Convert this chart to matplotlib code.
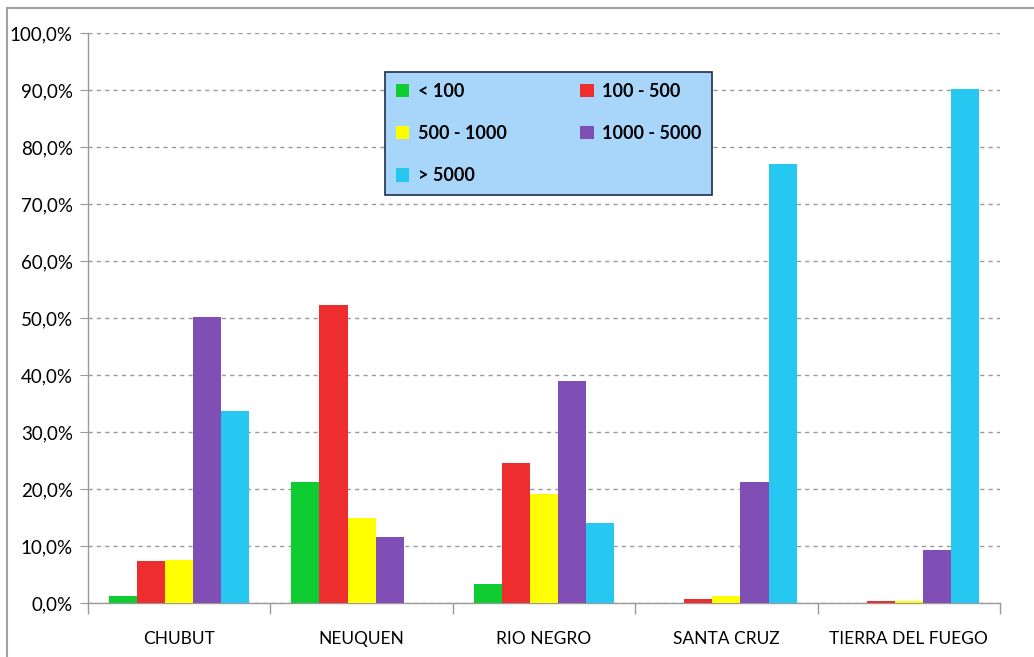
import matplotlib
matplotlib.use("Agg")
import matplotlib.pyplot as plt
from matplotlib.lines import Line2D
from matplotlib.ticker import FuncFormatter, MultipleLocator
import numpy as np

categories = ["CHUBUT", "NEUQUEN", "RIO NEGRO", "SANTA CRUZ", "TIERRA DEL FUEGO"]
series_names = ["< 100", "100 - 500", "500 - 1000", "1000 - 5000", "> 5000"]
lt100 = [1.2, 21.2, 3.3, 0.0, 0.0]
r100_500 = [7.4, 52.3, 24.6, 0.7, 0.3]
r500_1000 = [7.6, 15.0, 19.2, 1.2, 0.3]
r1000_5000 = [50.1, 11.6, 38.9, 21.2, 9.3]
gt5000 = [33.6, 0.0, 14.0, 77.0, 90.2]
series = [lt100, r100_500, r500_1000, r1000_5000, gt5000]
colors = ["#0FCC33", "#EE2E2E", "#FFFF00", "#7F4FB5", "#26C7F1"]

plt.rcParams['font.family'] = ['Lato', 'DejaVu Sans']

fig = plt.figure(figsize=(10.34, 6.57), dpi=100)
ax = fig.add_axes([88/1034, (657-603)/657, 912/1034, 570/657])

x = np.arange(len(categories))
w = 0.154
handles = []
for i, (vals, c, name) in enumerate(zip(series, colors, series_names)):
    b = ax.bar(x + (i - 2) * w, vals, width=w, color=c, label=name, zorder=3)
    handles.append(b)

ax.set_xlim(-0.5, len(categories) - 0.5)
ax.set_ylim(0, 100)
ax.yaxis.set_major_locator(MultipleLocator(10))
ax.yaxis.set_major_formatter(FuncFormatter(lambda v, p: f"{v:.1f}%".replace(".", ",")))
ax.set_xticks(x)
ax.set_xticklabels(categories)
ax.set_xticks(np.arange(-0.5, len(categories), 1), minor=True)
ax.tick_params(axis='x', which='major', length=0, pad=20, labelsize=12.5)
ax.tick_params(axis='x', which='minor', length=8, color='#999999', width=1)
ax.tick_params(axis='y', length=6, color='#999999', labelsize=13.5, pad=5)
ax.grid(axis='y', linestyle=(0, (3, 3)), color='#9a9a9a', linewidth=1, zorder=0)
for s in ['top', 'right']:
    ax.spines[s].set_visible(False)
for s in ['left', 'bottom']:
    ax.spines[s].set_color('#999999')
    ax.spines[s].set_linewidth(1)

order = [0, 2, 4, 1, 3]
leg = ax.legend([handles[i] for i in order], [series_names[i] for i in order],
                ncol=2, loc='upper left',
                bbox_to_anchor=(297/912, (603-192)/570, 327/912, 120/570),
                mode='expand', frameon=True, fancybox=False, borderaxespad=0,
                prop={'weight': 'bold', 'size': 13},
                handlelength=0.75, handleheight=0.75, handletextpad=0.45,
                labelspacing=1.4, borderpad=0.6, columnspacing=2.0)
leg.get_frame().set_facecolor('#A8D5FA')
leg.get_frame().set_edgecolor('#1F2D4D')
leg.get_frame().set_linewidth(1.2)
leg.get_frame().set_alpha(1)

# chart area border
fig.add_artist(Line2D([7/1034, 7/1034], [0, 1 - 8/657], transform=fig.transFigure, color='#a0a0a0', linewidth=1.5))
fig.add_artist(Line2D([7/1034, 1], [1 - 8/657, 1 - 8/657], transform=fig.transFigure, color='#a0a0a0', linewidth=1.5))

fig.savefig("out.png", dpi=100)
